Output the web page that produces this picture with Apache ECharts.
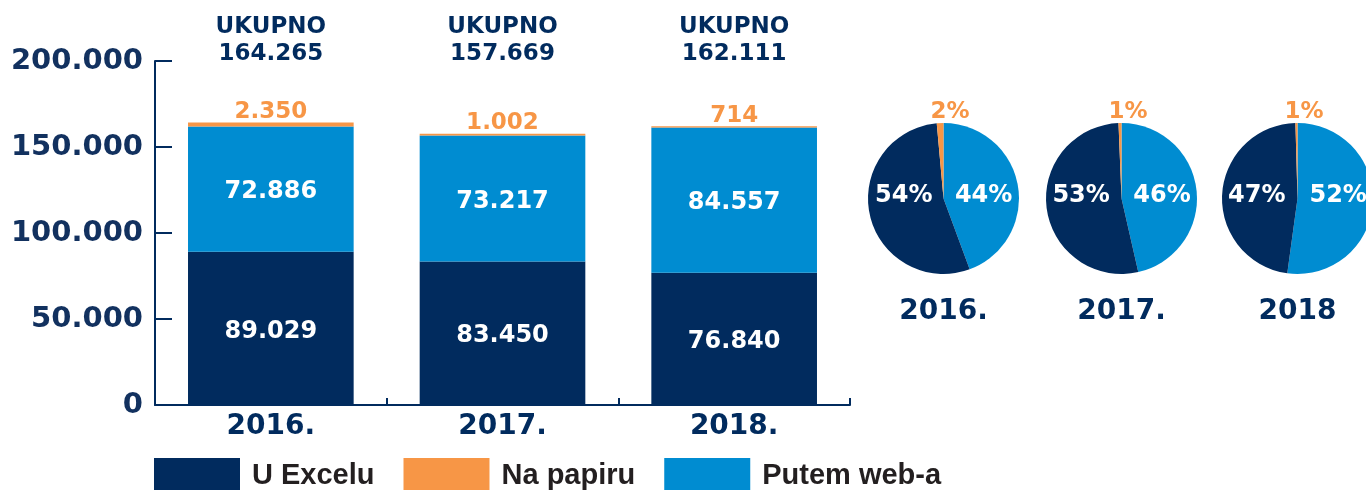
<!DOCTYPE html>
<html>
<head>
<meta charset="utf-8">
<script src="https://cdn.jsdelivr.net/npm/echarts@6/dist/echarts.min.js"></script>
<style>
  html, body { margin: 0; padding: 0; background: #ffffff; }
  #chart { width: 1366px; height: 490px; }
</style>
</head>
<body>
<div id="chart"></div>
<script>
// Submissions by channel per year
const categories = ['2016.', '2017.', '2018.'];
const pieYears = ['2016.', '2017.', '2018'];
const seriesNames = ['U Excelu', 'Na papiru', 'Putem web-a'];
const excelValues = [89029, 83450, 76840];
const paperValues = [2350, 1002, 714];
const webValues = [72886, 73217, 84557];
const totalLabel = 'UKUPNO';

const NAVY = '#012b5e';
const ORANGE = '#f79646';
const BLUE = '#008cd1';
const AXIS_TEXT = '#12315f';
const FONT = 'DejaVu Sans';

const totals = categories.map((_, i) => excelValues[i] + paperValues[i] + webValues[i]);
const fmt = n => String(n).replace(/\B(?=(\d{3})+(?!\d))/g, '.');

// pie geometry (px)
const pieCenters = [943.5, 1121.5, 1297.5];
const pieCY = 198.5;
const pieR = 75.5;

const chart = echarts.init(document.getElementById('chart'), null, { renderer: 'canvas' });

const barLabelInside = {
  show: true, position: 'inside', color: '#ffffff', offset: [0, 3],
  fontFamily: FONT, fontWeight: 'bold', fontSize: 24,
  formatter: p => fmt(p.value)
};

const pieSeries = pieCenters.map((cx, i) => ({
  type: 'pie',
  center: [cx, pieCY],
  radius: pieR,
  startAngle: 90,
  clockwise: true,
  percentPrecision: 0,
  silent: true,
  animation: false,
  avoidLabelOverlap: false,
  labelLine: { show: false },
  emphasis: { disabled: true },
  itemStyle: { borderWidth: 0 },
  label: {
    show: true, position: 'inside', formatter: '{d}%',
    color: '#ffffff', fontFamily: FONT, fontWeight: 'bold', fontSize: 24
  },
  labelLayout: function (p) {
    if (p.dataIndex === 2) {
      return { x: cx - 13, y: pieCY - pieR - 11, align: 'left', verticalAlign: 'middle' };
    }
    return { y: pieCY - 3, verticalAlign: 'middle' };
  },
  data: [
    { name: seriesNames[2], value: webValues[i], itemStyle: { color: BLUE } },
    { name: seriesNames[0], value: excelValues[i], itemStyle: { color: NAVY } },
    { name: seriesNames[1], value: paperValues[i], itemStyle: { color: ORANGE },
      label: { color: ORANGE, fontSize: 23 } }
  ]
}));

const option = {
  animation: false,
  backgroundColor: '#ffffff',
  color: [NAVY, ORANGE, BLUE],
  grid: { left: 155, right: 516, top: 61, bottom: 85, containLabel: false },
  legend: {
    data: seriesNames,
    left: 154, top: 458, padding: 0,
    itemWidth: 86, itemHeight: 36, itemGap: 29,
    icon: 'rect',
    selectedMode: false,
    textStyle: {
      fontFamily: 'Liberation Sans', fontWeight: 'bold', fontSize: 29,
      color: '#231f20', padding: [0, 0, 0, 7]
    }
  },
  xAxis: [
    {
      type: 'category',
      data: categories,
      axisLine: { lineStyle: { color: NAVY, width: 2 } },
      axisTick: { show: true, inside: true, length: 7, interval: 0, lineStyle: { color: NAVY, width: 2 } },
      axisLabel: { color: NAVY, fontFamily: FONT, fontWeight: 'bold', fontSize: 28, margin: 8 }
    },
    {
      type: 'category',
      position: 'top',
      data: categories,
      axisLine: { show: false, onZero: false },
      axisTick: { show: false },
      axisLabel: {
        color: NAVY, fontFamily: FONT, fontWeight: 'bold', fontSize: 23, lineHeight: 27, margin: -7,
        formatter: (v, i) => totalLabel + '\n' + fmt(totals[i])
      }
    }
  ],
  yAxis: {
    type: 'value',
    min: 0, max: 200000, interval: 50000,
    splitLine: { show: false },
    axisLine: { show: true, lineStyle: { color: NAVY, width: 2 } },
    axisTick: { show: true, inside: true, length: 17, lineStyle: { color: NAVY, width: 2 } },
    axisLabel: {
      color: AXIS_TEXT, fontFamily: FONT, fontWeight: 'bold', fontSize: 29, margin: 12,
      formatter: v => fmt(v)
    }
  },
  series: [
    {
      name: seriesNames[0], type: 'bar', stack: 'total', barWidth: '71.5%',
      data: excelValues, itemStyle: { color: NAVY }, label: barLabelInside, silent: true
    },
    {
      name: seriesNames[2], type: 'bar', stack: 'total', barWidth: '71.5%',
      data: webValues, itemStyle: { color: BLUE }, label: barLabelInside, silent: true
    },
    {
      name: seriesNames[1], type: 'bar', stack: 'total', barWidth: '71.5%',
      data: paperValues, itemStyle: { color: ORANGE }, silent: true,
      label: {
        show: true, position: 'top', distance: -1, color: ORANGE,
        fontFamily: FONT, fontWeight: 'bold', fontSize: 23,
        formatter: p => fmt(p.value)
      }
    }
  ].concat(pieSeries),
  graphic: pieCenters.map((cx, i) => ({
    type: 'text',
    x: cx, y: 312,
    style: {
      text: pieYears[i], fill: NAVY, align: 'center', verticalAlign: 'middle',
      font: 'bold 28px "DejaVu Sans"'
    }
  }))
};

chart.setOption(option);
</script>
</body>
</html>
